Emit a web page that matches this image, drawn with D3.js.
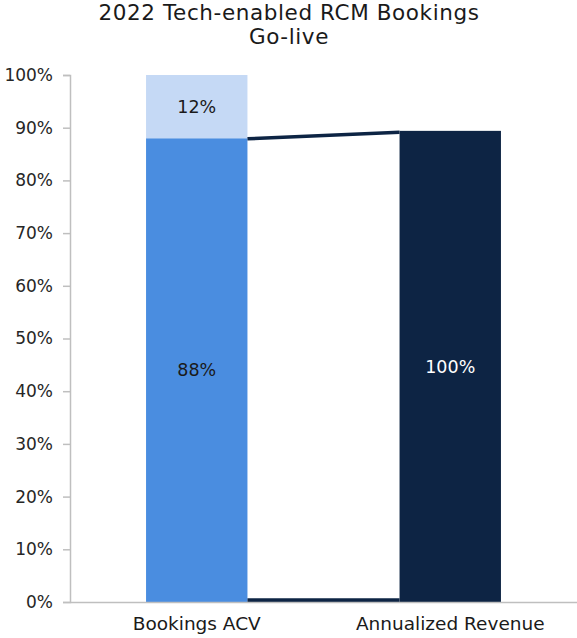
<!DOCTYPE html>
<html>
<head>
<meta charset="utf-8">
<script src="https://cdn.jsdelivr.net/npm/d3@7"></script>
<style>
  html, body { margin: 0; padding: 0; background: #fff; }
  svg { display: block; font-family: "DejaVu Sans", "Open Sans", sans-serif; }
</style>
</head>
<body>
<svg id="chart" width="577" height="638"></svg>
<script>
const titleLines = ["2022 Tech-enabled RCM Bookings", "Go-live"];
const categories = ["Bookings ACV", "Annualized Revenue"];
const bookingsBase = [88, 0];
const bookingsTop = [12, 0];
const revenue = [0, 89.4];
const segmentLabels = ["88%", "12%", "100%"];
const yTicks = [0, 10, 20, 30, 40, 50, 60, 70, 80, 90, 100];

const colors = { base: "#4a8de0", top: "#c5d9f5", rev: "#0d2444", axis: "#bfbfbf", text: "#1a1a1a" };
const FONT = "'DejaVu Sans', 'Open Sans', sans-serif";

const svg = d3.select("#chart");
const m = { left: 70, right: 577, top: 75, bottom: 602 };

const x = d3.scaleBand().domain(categories).range([m.left, m.right]).paddingInner(0.6).paddingOuter(0.3);
const y = d3.scaleLinear().domain([0, 100]).range([m.bottom, m.top]);

// Title
svg.append("g").selectAll("text").data(titleLines).join("text")
  .attr("x", 289).attr("y", (d, i) => 20 + i * 23.5)
  .attr("text-anchor", "middle")
  .attr("font-size", 21.5)
  .attr("letter-spacing", 0.6)
  .attr("fill", colors.text)
  .text(d => d);

// Y axis
const yAxis = d3.axisLeft(y).tickValues(yTicks).tickFormat(d => d + "%").tickSize(7).tickPadding(10);
const gy = svg.append("g").attr("transform", `translate(${m.left},0)`).call(yAxis);
gy.select(".domain").attr("stroke", colors.axis).attr("stroke-width", 1.5);
gy.selectAll(".tick line").attr("stroke", colors.axis).attr("stroke-width", 1.5);
gy.selectAll(".tick text").attr("font-size", 17).attr("fill", "#262626").attr("font-family", FONT);

// Bars
const c0 = categories[0], c1 = categories[1];
svg.append("rect").attr("x", x(c0)).attr("width", x.bandwidth())
  .attr("y", y(bookingsBase[0])).attr("height", y(0) - y(bookingsBase[0])).attr("fill", colors.base);
svg.append("rect").attr("x", x(c0)).attr("width", x.bandwidth())
  .attr("y", y(bookingsBase[0] + bookingsTop[0])).attr("height", y(bookingsBase[0]) - y(bookingsBase[0] + bookingsTop[0])).attr("fill", colors.top);
svg.append("rect").attr("x", x(c1)).attr("width", x.bandwidth())
  .attr("y", y(revenue[1])).attr("height", y(0) - y(revenue[1])).attr("fill", colors.rev);

// Connector lines
const x0r = x(c0) + x.bandwidth(), x1l = x(c1);
svg.append("line").attr("x1", x0r).attr("x2", x1l)
  .attr("y1", y(bookingsBase[0]) + 0.5).attr("y2", y(revenue[1]) + 1.5)
  .attr("stroke", colors.rev).attr("stroke-width", 3.5);
svg.append("line").attr("x1", x0r).attr("x2", x1l)
  .attr("y1", y(0) - 1.8).attr("y2", y(0) - 1.8)
  .attr("stroke", colors.rev).attr("stroke-width", 4);

// Bottom axis line
svg.append("line").attr("x1", m.left).attr("x2", m.right).attr("y1", y(0) + 0.5).attr("y2", y(0) + 0.5)
  .attr("stroke", colors.axis).attr("stroke-width", 1.5);

// Segment labels
const cx0 = x(c0) + x.bandwidth() / 2, cx1 = x(c1) + x.bandwidth() / 2;
const labels = [
  { x: cx0, y: (y(0) + y(bookingsBase[0])) / 2, t: segmentLabels[0], c: colors.text },
  { x: cx0, y: (y(bookingsBase[0]) + y(bookingsBase[0] + bookingsTop[0])) / 2, t: segmentLabels[1], c: colors.text },
  { x: cx1, y: (y(0) + y(revenue[1])) / 2, t: segmentLabels[2], c: "#ffffff" }
];
svg.append("g").selectAll("text").data(labels).join("text")
  .attr("x", d => d.x).attr("y", d => d.y).attr("dy", "0.35em")
  .attr("text-anchor", "middle").attr("font-size", 17.5).attr("fill", d => d.c)
  .text(d => d.t);

// Category labels
svg.append("g").selectAll("text").data(categories).join("text")
  .attr("x", d => x(d) + x.bandwidth() / 2).attr("y", 630)
  .attr("text-anchor", "middle").attr("font-size", 18.5).attr("fill", colors.text)
  .text(d => d);
</script>
</body>
</html>
